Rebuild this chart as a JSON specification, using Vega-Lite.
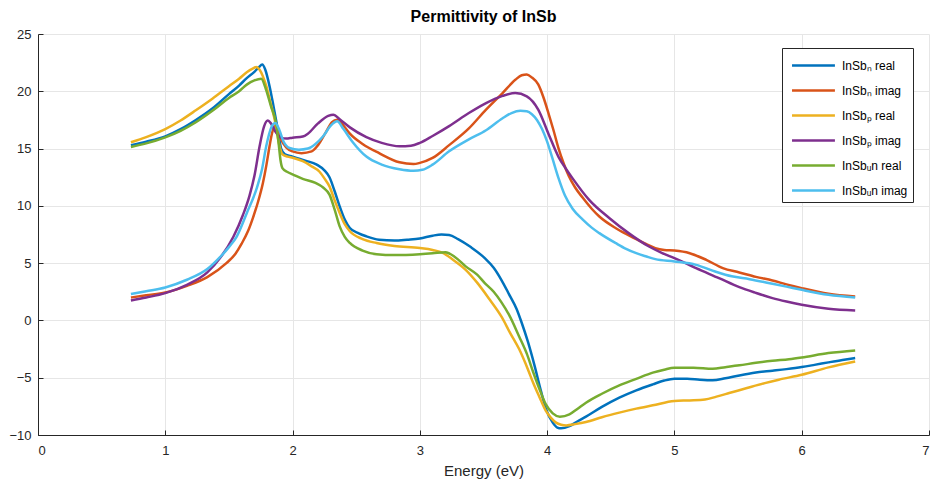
{
  "$schema": "https://vega.github.io/schema/vega-lite/v6.json",
  "width": 891,
  "height": 401,
  "autosize": {"type": "none"},
  "padding": {"left": 38, "top": 34, "right": 6, "bottom": 49},
  "background": "white",
  "title": {"text": "Permittivity of InSb", "fontSize": 16, "fontWeight": "bold", "font": "Liberation Sans", "color": "#000000", "offset": 3, "anchor": "middle"},
  "data": {"values": [
    {"series": "InSbₙ real", "E": 0.73, "eps": 15.3},
    {"series": "InSbₙ real", "E": 0.85, "eps": 15.6},
    {"series": "InSbₙ real", "E": 1.0, "eps": 16.07},
    {"series": "InSbₙ real", "E": 1.12, "eps": 16.7},
    {"series": "InSbₙ real", "E": 1.24, "eps": 17.5},
    {"series": "InSbₙ real", "E": 1.37, "eps": 18.5},
    {"series": "InSbₙ real", "E": 1.5, "eps": 19.75},
    {"series": "InSbₙ real", "E": 1.58, "eps": 20.5},
    {"series": "InSbₙ real", "E": 1.64, "eps": 21.15},
    {"series": "InSbₙ real", "E": 1.7, "eps": 21.7},
    {"series": "InSbₙ real", "E": 1.735, "eps": 22.1},
    {"series": "InSbₙ real", "E": 1.762, "eps": 22.33},
    {"series": "InSbₙ real", "E": 1.785, "eps": 21.9},
    {"series": "InSbₙ real", "E": 1.82, "eps": 20.4},
    {"series": "InSbₙ real", "E": 1.85, "eps": 18.7},
    {"series": "InSbₙ real", "E": 1.885, "eps": 16.6},
    {"series": "InSbₙ real", "E": 1.91, "eps": 15.0},
    {"series": "InSbₙ real", "E": 1.94, "eps": 14.5},
    {"series": "InSbₙ real", "E": 2.0, "eps": 14.3},
    {"series": "InSbₙ real", "E": 2.1, "eps": 13.95},
    {"series": "InSbₙ real", "E": 2.19, "eps": 13.6},
    {"series": "InSbₙ real", "E": 2.25, "eps": 13.1},
    {"series": "InSbₙ real", "E": 2.29, "eps": 12.5},
    {"series": "InSbₙ real", "E": 2.33, "eps": 11.3},
    {"series": "InSbₙ real", "E": 2.37, "eps": 9.96},
    {"series": "InSbₙ real", "E": 2.41, "eps": 8.8},
    {"series": "InSbₙ real", "E": 2.45, "eps": 8.07},
    {"series": "InSbₙ real", "E": 2.52, "eps": 7.6},
    {"series": "InSbₙ real", "E": 2.58, "eps": 7.34},
    {"series": "InSbₙ real", "E": 2.68, "eps": 7.05},
    {"series": "InSbₙ real", "E": 2.8, "eps": 6.98},
    {"series": "InSbₙ real", "E": 2.9, "eps": 7.05},
    {"series": "InSbₙ real", "E": 3.0, "eps": 7.15},
    {"series": "InSbₙ real", "E": 3.1, "eps": 7.4},
    {"series": "InSbₙ real", "E": 3.17, "eps": 7.5},
    {"series": "InSbₙ real", "E": 3.23, "eps": 7.45},
    {"series": "InSbₙ real", "E": 3.3, "eps": 7.1},
    {"series": "InSbₙ real", "E": 3.4, "eps": 6.4},
    {"series": "InSbₙ real", "E": 3.51, "eps": 5.44},
    {"series": "InSbₙ real", "E": 3.58, "eps": 4.6},
    {"series": "InSbₙ real", "E": 3.64, "eps": 3.55},
    {"series": "InSbₙ real", "E": 3.7, "eps": 2.3},
    {"series": "InSbₙ real", "E": 3.76, "eps": 1.0},
    {"series": "InSbₙ real", "E": 3.8, "eps": -0.2},
    {"series": "InSbₙ real", "E": 3.85, "eps": -1.9},
    {"series": "InSbₙ real", "E": 3.9, "eps": -3.9},
    {"series": "InSbₙ real", "E": 3.95, "eps": -6.1},
    {"series": "InSbₙ real", "E": 3.99, "eps": -7.7},
    {"series": "InSbₙ real", "E": 4.044, "eps": -8.92},
    {"series": "InSbₙ real", "E": 4.08, "eps": -9.35},
    {"series": "InSbₙ real", "E": 4.11, "eps": -9.42},
    {"series": "InSbₙ real", "E": 4.175, "eps": -9.22},
    {"series": "InSbₙ real", "E": 4.24, "eps": -8.8},
    {"series": "InSbₙ real", "E": 4.305, "eps": -8.4},
    {"series": "InSbₙ real", "E": 4.43, "eps": -7.55},
    {"series": "InSbₙ real", "E": 4.567, "eps": -6.74},
    {"series": "InSbₙ real", "E": 4.7, "eps": -6.1},
    {"series": "InSbₙ real", "E": 4.83, "eps": -5.58},
    {"series": "InSbₙ real", "E": 4.92, "eps": -5.25},
    {"series": "InSbₙ real", "E": 5.0, "eps": -5.09},
    {"series": "InSbₙ real", "E": 5.1, "eps": -5.08},
    {"series": "InSbₙ real", "E": 5.2, "eps": -5.18},
    {"series": "InSbₙ real", "E": 5.3, "eps": -5.23},
    {"series": "InSbₙ real", "E": 5.4, "eps": -5.05},
    {"series": "InSbₙ real", "E": 5.51, "eps": -4.8},
    {"series": "InSbₙ real", "E": 5.64, "eps": -4.55},
    {"series": "InSbₙ real", "E": 5.77, "eps": -4.39},
    {"series": "InSbₙ real", "E": 5.88, "eps": -4.25},
    {"series": "InSbₙ real", "E": 6.0, "eps": -4.07},
    {"series": "InSbₙ real", "E": 6.1, "eps": -3.88},
    {"series": "InSbₙ real", "E": 6.21, "eps": -3.66},
    {"series": "InSbₙ real", "E": 6.32, "eps": -3.45},
    {"series": "InSbₙ real", "E": 6.42, "eps": -3.28},

    {"series": "InSbₙ imag", "E": 0.73, "eps": 2.0},
    {"series": "InSbₙ imag", "E": 0.85, "eps": 2.2},
    {"series": "InSbₙ imag", "E": 1.0, "eps": 2.44},
    {"series": "InSbₙ imag", "E": 1.17, "eps": 3.02},
    {"series": "InSbₙ imag", "E": 1.33, "eps": 3.78},
    {"series": "InSbₙ imag", "E": 1.48, "eps": 5.0},
    {"series": "InSbₙ imag", "E": 1.55, "eps": 5.8},
    {"series": "InSbₙ imag", "E": 1.6, "eps": 6.7},
    {"series": "InSbₙ imag", "E": 1.65, "eps": 7.8},
    {"series": "InSbₙ imag", "E": 1.69, "eps": 9.0},
    {"series": "InSbₙ imag", "E": 1.73, "eps": 10.4},
    {"series": "InSbₙ imag", "E": 1.767, "eps": 12.0},
    {"series": "InSbₙ imag", "E": 1.795, "eps": 13.6},
    {"series": "InSbₙ imag", "E": 1.819, "eps": 15.2},
    {"series": "InSbₙ imag", "E": 1.84, "eps": 16.4},
    {"series": "InSbₙ imag", "E": 1.864, "eps": 17.0},
    {"series": "InSbₙ imag", "E": 1.885, "eps": 16.6},
    {"series": "InSbₙ imag", "E": 1.91, "eps": 15.8},
    {"series": "InSbₙ imag", "E": 1.95, "eps": 15.1},
    {"series": "InSbₙ imag", "E": 2.0, "eps": 14.75},
    {"series": "InSbₙ imag", "E": 2.07, "eps": 14.6},
    {"series": "InSbₙ imag", "E": 2.15, "eps": 14.75},
    {"series": "InSbₙ imag", "E": 2.2, "eps": 15.3},
    {"series": "InSbₙ imag", "E": 2.26, "eps": 16.4},
    {"series": "InSbₙ imag", "E": 2.31, "eps": 17.3},
    {"series": "InSbₙ imag", "E": 2.35, "eps": 17.52},
    {"series": "InSbₙ imag", "E": 2.4, "eps": 17.0},
    {"series": "InSbₙ imag", "E": 2.45, "eps": 16.3},
    {"series": "InSbₙ imag", "E": 2.55, "eps": 15.4},
    {"series": "InSbₙ imag", "E": 2.68, "eps": 14.6},
    {"series": "InSbₙ imag", "E": 2.84, "eps": 13.8},
    {"series": "InSbₙ imag", "E": 2.95, "eps": 13.65},
    {"series": "InSbₙ imag", "E": 3.0, "eps": 13.75},
    {"series": "InSbₙ imag", "E": 3.1, "eps": 14.18},
    {"series": "InSbₙ imag", "E": 3.23, "eps": 15.3},
    {"series": "InSbₙ imag", "E": 3.385, "eps": 16.76},
    {"series": "InSbₙ imag", "E": 3.52, "eps": 18.4},
    {"series": "InSbₙ imag", "E": 3.65, "eps": 19.85},
    {"series": "InSbₙ imag", "E": 3.75, "eps": 21.0},
    {"series": "InSbₙ imag", "E": 3.8, "eps": 21.4},
    {"series": "InSbₙ imag", "E": 3.84, "eps": 21.47},
    {"series": "InSbₙ imag", "E": 3.88, "eps": 21.2},
    {"series": "InSbₙ imag", "E": 3.93, "eps": 20.6},
    {"series": "InSbₙ imag", "E": 3.97, "eps": 19.5},
    {"series": "InSbₙ imag", "E": 4.01, "eps": 18.1},
    {"series": "InSbₙ imag", "E": 4.05, "eps": 16.6},
    {"series": "InSbₙ imag", "E": 4.09, "eps": 15.0},
    {"series": "InSbₙ imag", "E": 4.13, "eps": 13.7},
    {"series": "InSbₙ imag", "E": 4.17, "eps": 12.6},
    {"series": "InSbₙ imag", "E": 4.22, "eps": 11.6},
    {"series": "InSbₙ imag", "E": 4.28, "eps": 10.7},
    {"series": "InSbₙ imag", "E": 4.35, "eps": 9.75},
    {"series": "InSbₙ imag", "E": 4.41, "eps": 9.07},
    {"series": "InSbₙ imag", "E": 4.54, "eps": 8.05},
    {"series": "InSbₙ imag", "E": 4.62, "eps": 7.55},
    {"series": "InSbₙ imag", "E": 4.7, "eps": 7.09},
    {"series": "InSbₙ imag", "E": 4.78, "eps": 6.65},
    {"series": "InSbₙ imag", "E": 4.85, "eps": 6.31},
    {"series": "InSbₙ imag", "E": 4.92, "eps": 6.15},
    {"series": "InSbₙ imag", "E": 5.0, "eps": 6.1},
    {"series": "InSbₙ imag", "E": 5.12, "eps": 5.87},
    {"series": "InSbₙ imag", "E": 5.25, "eps": 5.29},
    {"series": "InSbₙ imag", "E": 5.38, "eps": 4.56},
    {"series": "InSbₙ imag", "E": 5.51, "eps": 4.19},
    {"series": "InSbₙ imag", "E": 5.64, "eps": 3.8},
    {"series": "InSbₙ imag", "E": 5.77, "eps": 3.49},
    {"series": "InSbₙ imag", "E": 5.88, "eps": 3.15},
    {"series": "InSbₙ imag", "E": 6.0, "eps": 2.82},
    {"series": "InSbₙ imag", "E": 6.21, "eps": 2.33},
    {"series": "InSbₙ imag", "E": 6.42, "eps": 2.09},

    {"series": "InSbₚ real", "E": 0.73, "eps": 15.55},
    {"series": "InSbₚ real", "E": 0.85, "eps": 16.0},
    {"series": "InSbₚ real", "E": 1.0, "eps": 16.7},
    {"series": "InSbₚ real", "E": 1.12, "eps": 17.45},
    {"series": "InSbₚ real", "E": 1.24, "eps": 18.34},
    {"series": "InSbₚ real", "E": 1.37, "eps": 19.35},
    {"series": "InSbₚ real", "E": 1.5, "eps": 20.44},
    {"series": "InSbₚ real", "E": 1.58, "eps": 21.1},
    {"series": "InSbₚ real", "E": 1.64, "eps": 21.66},
    {"series": "InSbₚ real", "E": 1.69, "eps": 22.0},
    {"series": "InSbₚ real", "E": 1.715, "eps": 22.13},
    {"series": "InSbₚ real", "E": 1.74, "eps": 21.9},
    {"series": "InSbₚ real", "E": 1.767, "eps": 21.3},
    {"series": "InSbₚ real", "E": 1.795, "eps": 20.4},
    {"series": "InSbₚ real", "E": 1.82, "eps": 19.3},
    {"series": "InSbₚ real", "E": 1.86, "eps": 17.5},
    {"series": "InSbₚ real", "E": 1.898, "eps": 15.2},
    {"series": "InSbₚ real", "E": 1.92, "eps": 14.5},
    {"series": "InSbₚ real", "E": 1.96, "eps": 14.3},
    {"series": "InSbₚ real", "E": 2.0, "eps": 14.2},
    {"series": "InSbₚ real", "E": 2.08, "eps": 13.9},
    {"series": "InSbₚ real", "E": 2.15, "eps": 13.45},
    {"series": "InSbₚ real", "E": 2.21, "eps": 13.0},
    {"series": "InSbₚ real", "E": 2.25, "eps": 12.4},
    {"series": "InSbₚ real", "E": 2.29, "eps": 11.7},
    {"series": "InSbₚ real", "E": 2.33, "eps": 10.5},
    {"series": "InSbₚ real", "E": 2.37, "eps": 9.38},
    {"series": "InSbₚ real", "E": 2.41, "eps": 8.4},
    {"series": "InSbₚ real", "E": 2.45, "eps": 7.78},
    {"series": "InSbₚ real", "E": 2.55, "eps": 7.1},
    {"series": "InSbₚ real", "E": 2.66, "eps": 6.76},
    {"series": "InSbₚ real", "E": 2.8, "eps": 6.5},
    {"series": "InSbₚ real", "E": 3.0, "eps": 6.32},
    {"series": "InSbₚ real", "E": 3.1, "eps": 6.15},
    {"series": "InSbₚ real", "E": 3.18, "eps": 5.9},
    {"series": "InSbₚ real", "E": 3.26, "eps": 5.3},
    {"series": "InSbₚ real", "E": 3.36, "eps": 4.42},
    {"series": "InSbₚ real", "E": 3.45, "eps": 3.3},
    {"series": "InSbₚ real", "E": 3.55, "eps": 1.8},
    {"series": "InSbₚ real", "E": 3.64, "eps": 0.35},
    {"series": "InSbₚ real", "E": 3.71, "eps": -1.1},
    {"series": "InSbₚ real", "E": 3.78, "eps": -2.5},
    {"series": "InSbₚ real", "E": 3.85, "eps": -4.3},
    {"series": "InSbₚ real", "E": 3.89, "eps": -5.44},
    {"series": "InSbₚ real", "E": 3.94, "eps": -6.7},
    {"series": "InSbₚ real", "E": 3.99, "eps": -7.9},
    {"series": "InSbₚ real", "E": 4.03, "eps": -8.5},
    {"series": "InSbₚ real", "E": 4.07, "eps": -8.92},
    {"series": "InSbₚ real", "E": 4.11, "eps": -9.1},
    {"series": "InSbₚ real", "E": 4.15, "eps": -9.16},
    {"series": "InSbₚ real", "E": 4.22, "eps": -9.05},
    {"series": "InSbₚ real", "E": 4.305, "eps": -8.87},
    {"series": "InSbₚ real", "E": 4.43, "eps": -8.45},
    {"series": "InSbₚ real", "E": 4.567, "eps": -8.05},
    {"series": "InSbₚ real", "E": 4.7, "eps": -7.7},
    {"series": "InSbₚ real", "E": 4.83, "eps": -7.41},
    {"series": "InSbₚ real", "E": 5.0, "eps": -7.03},
    {"series": "InSbₚ real", "E": 5.12, "eps": -6.98},
    {"series": "InSbₚ real", "E": 5.24, "eps": -6.9},
    {"series": "InSbₚ real", "E": 5.33, "eps": -6.65},
    {"series": "InSbₚ real", "E": 5.43, "eps": -6.34},
    {"series": "InSbₚ real", "E": 5.57, "eps": -5.9},
    {"series": "InSbₚ real", "E": 5.71, "eps": -5.47},
    {"series": "InSbₚ real", "E": 5.82, "eps": -5.17},
    {"series": "InSbₚ real", "E": 6.0, "eps": -4.74},
    {"series": "InSbₚ real", "E": 6.21, "eps": -4.1},
    {"series": "InSbₚ real", "E": 6.42, "eps": -3.58},

    {"series": "InSbₚ imag", "E": 0.73, "eps": 1.74},
    {"series": "InSbₚ imag", "E": 0.85, "eps": 2.0},
    {"series": "InSbₚ imag", "E": 1.0, "eps": 2.38},
    {"series": "InSbₚ imag", "E": 1.17, "eps": 3.11},
    {"series": "InSbₚ imag", "E": 1.33, "eps": 4.19},
    {"series": "InSbₚ imag", "E": 1.43, "eps": 5.44},
    {"series": "InSbₚ imag", "E": 1.535, "eps": 7.3},
    {"series": "InSbₚ imag", "E": 1.61, "eps": 9.2},
    {"series": "InSbₚ imag", "E": 1.662, "eps": 10.9},
    {"series": "InSbₚ imag", "E": 1.7, "eps": 12.6},
    {"series": "InSbₚ imag", "E": 1.741, "eps": 15.2},
    {"series": "InSbₚ imag", "E": 1.775, "eps": 16.9},
    {"series": "InSbₚ imag", "E": 1.806, "eps": 17.44},
    {"series": "InSbₚ imag", "E": 1.83, "eps": 17.2},
    {"series": "InSbₚ imag", "E": 1.87, "eps": 16.4},
    {"series": "InSbₚ imag", "E": 1.91, "eps": 15.95},
    {"series": "InSbₚ imag", "E": 1.95, "eps": 15.87},
    {"series": "InSbₚ imag", "E": 2.0, "eps": 15.95},
    {"series": "InSbₚ imag", "E": 2.08, "eps": 16.05},
    {"series": "InSbₚ imag", "E": 2.12, "eps": 16.3},
    {"series": "InSbₚ imag", "E": 2.2, "eps": 17.2},
    {"series": "InSbₚ imag", "E": 2.28, "eps": 17.85},
    {"series": "InSbₚ imag", "E": 2.32, "eps": 17.96},
    {"series": "InSbₚ imag", "E": 2.37, "eps": 17.55},
    {"series": "InSbₚ imag", "E": 2.45, "eps": 16.85},
    {"series": "InSbₚ imag", "E": 2.58, "eps": 16.0},
    {"series": "InSbₚ imag", "E": 2.7, "eps": 15.5},
    {"series": "InSbₚ imag", "E": 2.84, "eps": 15.2},
    {"series": "InSbₚ imag", "E": 2.93, "eps": 15.25},
    {"series": "InSbₚ imag", "E": 3.0, "eps": 15.5},
    {"series": "InSbₚ imag", "E": 3.1, "eps": 16.1},
    {"series": "InSbₚ imag", "E": 3.23, "eps": 16.96},
    {"series": "InSbₚ imag", "E": 3.385, "eps": 18.1},
    {"series": "InSbₚ imag", "E": 3.52, "eps": 18.97},
    {"series": "InSbₚ imag", "E": 3.65, "eps": 19.6},
    {"series": "InSbₚ imag", "E": 3.75, "eps": 19.85},
    {"series": "InSbₚ imag", "E": 3.84, "eps": 19.56},
    {"series": "InSbₚ imag", "E": 3.93, "eps": 18.4},
    {"series": "InSbₚ imag", "E": 4.01, "eps": 16.3},
    {"series": "InSbₚ imag", "E": 4.09, "eps": 14.26},
    {"series": "InSbₚ imag", "E": 4.15, "eps": 13.2},
    {"series": "InSbₚ imag", "E": 4.2, "eps": 12.4},
    {"series": "InSbₚ imag", "E": 4.33, "eps": 10.52},
    {"series": "InSbₚ imag", "E": 4.49, "eps": 8.92},
    {"series": "InSbₚ imag", "E": 4.64, "eps": 7.62},
    {"series": "InSbₚ imag", "E": 4.8, "eps": 6.45},
    {"series": "InSbₚ imag", "E": 4.9, "eps": 5.9},
    {"series": "InSbₚ imag", "E": 5.0, "eps": 5.44},
    {"series": "InSbₚ imag", "E": 5.17, "eps": 4.56},
    {"series": "InSbₚ imag", "E": 5.35, "eps": 3.69},
    {"series": "InSbₚ imag", "E": 5.51, "eps": 2.9},
    {"series": "InSbₚ imag", "E": 5.64, "eps": 2.4},
    {"series": "InSbₚ imag", "E": 5.77, "eps": 1.95},
    {"series": "InSbₚ imag", "E": 5.88, "eps": 1.65},
    {"series": "InSbₚ imag", "E": 6.0, "eps": 1.37},
    {"series": "InSbₚ imag", "E": 6.21, "eps": 1.02},
    {"series": "InSbₚ imag", "E": 6.42, "eps": 0.87},

    {"series": "InSbᵤn real", "E": 0.73, "eps": 15.14},
    {"series": "InSbᵤn real", "E": 0.85, "eps": 15.45},
    {"series": "InSbᵤn real", "E": 1.0, "eps": 15.98},
    {"series": "InSbᵤn real", "E": 1.12, "eps": 16.55},
    {"series": "InSbᵤn real", "E": 1.24, "eps": 17.3},
    {"series": "InSbᵤn real", "E": 1.37, "eps": 18.3},
    {"series": "InSbᵤn real", "E": 1.5, "eps": 19.42},
    {"series": "InSbᵤn real", "E": 1.58, "eps": 20.0},
    {"series": "InSbᵤn real", "E": 1.64, "eps": 20.58},
    {"series": "InSbᵤn real", "E": 1.7, "eps": 20.95},
    {"series": "InSbᵤn real", "E": 1.754, "eps": 21.1},
    {"series": "InSbᵤn real", "E": 1.79, "eps": 20.2},
    {"series": "InSbᵤn real", "E": 1.83, "eps": 18.7},
    {"series": "InSbᵤn real", "E": 1.87, "eps": 17.2},
    {"series": "InSbᵤn real", "E": 1.89, "eps": 15.5},
    {"series": "InSbᵤn real", "E": 1.905, "eps": 14.0},
    {"series": "InSbᵤn real", "E": 1.92, "eps": 13.3},
    {"series": "InSbᵤn real", "E": 1.96, "eps": 12.95},
    {"series": "InSbᵤn real", "E": 2.0, "eps": 12.75},
    {"series": "InSbᵤn real", "E": 2.08, "eps": 12.35},
    {"series": "InSbᵤn real", "E": 2.18, "eps": 12.0},
    {"series": "InSbᵤn real", "E": 2.24, "eps": 11.6},
    {"series": "InSbᵤn real", "E": 2.29, "eps": 10.98},
    {"series": "InSbᵤn real", "E": 2.33, "eps": 9.7},
    {"series": "InSbᵤn real", "E": 2.37, "eps": 8.21},
    {"series": "InSbᵤn real", "E": 2.41, "eps": 7.3},
    {"series": "InSbᵤn real", "E": 2.45, "eps": 6.76},
    {"series": "InSbᵤn real", "E": 2.55, "eps": 6.1},
    {"series": "InSbᵤn real", "E": 2.66, "eps": 5.78},
    {"series": "InSbᵤn real", "E": 2.8, "eps": 5.7},
    {"series": "InSbᵤn real", "E": 3.0, "eps": 5.78},
    {"series": "InSbᵤn real", "E": 3.1, "eps": 5.86},
    {"series": "InSbᵤn real", "E": 3.2, "eps": 5.96},
    {"series": "InSbᵤn real", "E": 3.28, "eps": 5.5},
    {"series": "InSbᵤn real", "E": 3.36, "eps": 4.72},
    {"series": "InSbᵤn real", "E": 3.45, "eps": 4.0},
    {"series": "InSbᵤn real", "E": 3.51, "eps": 3.26},
    {"series": "InSbᵤn real", "E": 3.58, "eps": 2.5},
    {"series": "InSbᵤn real", "E": 3.64, "eps": 1.6},
    {"series": "InSbᵤn real", "E": 3.7, "eps": 0.5},
    {"series": "InSbᵤn real", "E": 3.78, "eps": -1.4},
    {"series": "InSbᵤn real", "E": 3.84, "eps": -2.9},
    {"series": "InSbᵤn real", "E": 3.89, "eps": -4.5},
    {"series": "InSbᵤn real", "E": 3.94, "eps": -6.0},
    {"series": "InSbᵤn real", "E": 3.99, "eps": -7.33},
    {"series": "InSbᵤn real", "E": 4.044, "eps": -8.11},
    {"series": "InSbᵤn real", "E": 4.1, "eps": -8.4},
    {"series": "InSbᵤn real", "E": 4.175, "eps": -8.2},
    {"series": "InSbᵤn real", "E": 4.24, "eps": -7.7},
    {"series": "InSbᵤn real", "E": 4.305, "eps": -7.18},
    {"series": "InSbᵤn real", "E": 4.43, "eps": -6.4},
    {"series": "InSbᵤn real", "E": 4.567, "eps": -5.67},
    {"series": "InSbᵤn real", "E": 4.7, "eps": -5.1},
    {"series": "InSbᵤn real", "E": 4.83, "eps": -4.56},
    {"series": "InSbᵤn real", "E": 4.92, "eps": -4.3},
    {"series": "InSbᵤn real", "E": 5.0, "eps": -4.13},
    {"series": "InSbᵤn real", "E": 5.15, "eps": -4.12},
    {"series": "InSbᵤn real", "E": 5.3, "eps": -4.22},
    {"series": "InSbᵤn real", "E": 5.4, "eps": -4.08},
    {"series": "InSbᵤn real", "E": 5.51, "eps": -3.92},
    {"series": "InSbᵤn real", "E": 5.64, "eps": -3.7},
    {"series": "InSbᵤn real", "E": 5.77, "eps": -3.52},
    {"series": "InSbᵤn real", "E": 5.9, "eps": -3.38},
    {"series": "InSbᵤn real", "E": 6.0, "eps": -3.23},
    {"series": "InSbᵤn real", "E": 6.21, "eps": -2.85},
    {"series": "InSbᵤn real", "E": 6.42, "eps": -2.62},

    {"series": "InSbᵤn imag", "E": 0.73, "eps": 2.3},
    {"series": "InSbᵤn imag", "E": 0.85, "eps": 2.55},
    {"series": "InSbᵤn imag", "E": 1.0, "eps": 2.88},
    {"series": "InSbᵤn imag", "E": 1.17, "eps": 3.55},
    {"series": "InSbᵤn imag", "E": 1.33, "eps": 4.48},
    {"series": "InSbᵤn imag", "E": 1.43, "eps": 5.52},
    {"series": "InSbᵤn imag", "E": 1.5, "eps": 6.4},
    {"series": "InSbᵤn imag", "E": 1.56, "eps": 7.3},
    {"series": "InSbᵤn imag", "E": 1.64, "eps": 9.36},
    {"series": "InSbᵤn imag", "E": 1.72, "eps": 11.6},
    {"series": "InSbᵤn imag", "E": 1.76, "eps": 13.2},
    {"series": "InSbᵤn imag", "E": 1.793, "eps": 15.2},
    {"series": "InSbᵤn imag", "E": 1.835, "eps": 16.9},
    {"series": "InSbᵤn imag", "E": 1.864, "eps": 17.24},
    {"series": "InSbᵤn imag", "E": 1.89, "eps": 16.8},
    {"series": "InSbᵤn imag", "E": 1.93, "eps": 15.6},
    {"series": "InSbᵤn imag", "E": 1.976, "eps": 15.05},
    {"series": "InSbᵤn imag", "E": 2.05, "eps": 14.9},
    {"series": "InSbᵤn imag", "E": 2.12, "eps": 15.0},
    {"series": "InSbᵤn imag", "E": 2.18, "eps": 15.4},
    {"series": "InSbᵤn imag", "E": 2.24, "eps": 16.07},
    {"series": "InSbᵤn imag", "E": 2.3, "eps": 17.0},
    {"series": "InSbᵤn imag", "E": 2.35, "eps": 17.38},
    {"series": "InSbᵤn imag", "E": 2.4, "eps": 16.7},
    {"series": "InSbᵤn imag", "E": 2.47, "eps": 15.6},
    {"series": "InSbᵤn imag", "E": 2.58, "eps": 14.3},
    {"series": "InSbᵤn imag", "E": 2.7, "eps": 13.6},
    {"series": "InSbᵤn imag", "E": 2.84, "eps": 13.2},
    {"series": "InSbᵤn imag", "E": 2.95, "eps": 13.07},
    {"series": "InSbᵤn imag", "E": 3.02, "eps": 13.15},
    {"series": "InSbᵤn imag", "E": 3.1, "eps": 13.6},
    {"series": "InSbᵤn imag", "E": 3.23, "eps": 14.76},
    {"series": "InSbᵤn imag", "E": 3.385, "eps": 15.8},
    {"series": "InSbᵤn imag", "E": 3.52, "eps": 16.6},
    {"series": "InSbᵤn imag", "E": 3.65, "eps": 17.65},
    {"series": "InSbᵤn imag", "E": 3.72, "eps": 18.1},
    {"series": "InSbᵤn imag", "E": 3.79, "eps": 18.3},
    {"series": "InSbᵤn imag", "E": 3.84, "eps": 18.25},
    {"series": "InSbᵤn imag", "E": 3.88, "eps": 18.0},
    {"series": "InSbᵤn imag", "E": 3.92, "eps": 17.5},
    {"series": "InSbᵤn imag", "E": 3.96, "eps": 16.7},
    {"series": "InSbᵤn imag", "E": 4.0, "eps": 15.6},
    {"series": "InSbᵤn imag", "E": 4.04, "eps": 14.2},
    {"series": "InSbᵤn imag", "E": 4.09, "eps": 12.4},
    {"series": "InSbᵤn imag", "E": 4.14, "eps": 10.9},
    {"series": "InSbᵤn imag", "E": 4.2, "eps": 9.75},
    {"series": "InSbᵤn imag", "E": 4.28, "eps": 8.8},
    {"series": "InSbᵤn imag", "E": 4.35, "eps": 8.1},
    {"series": "InSbᵤn imag", "E": 4.41, "eps": 7.62},
    {"series": "InSbᵤn imag", "E": 4.54, "eps": 6.74},
    {"series": "InSbᵤn imag", "E": 4.62, "eps": 6.25},
    {"series": "InSbᵤn imag", "E": 4.7, "eps": 5.87},
    {"series": "InSbᵤn imag", "E": 4.78, "eps": 5.58},
    {"series": "InSbᵤn imag", "E": 4.85, "eps": 5.35},
    {"series": "InSbᵤn imag", "E": 5.0, "eps": 5.15},
    {"series": "InSbᵤn imag", "E": 5.17, "eps": 4.85},
    {"series": "InSbᵤn imag", "E": 5.32, "eps": 4.27},
    {"series": "InSbᵤn imag", "E": 5.45, "eps": 3.85},
    {"series": "InSbᵤn imag", "E": 5.59, "eps": 3.6},
    {"series": "InSbᵤn imag", "E": 5.77, "eps": 3.2},
    {"series": "InSbᵤn imag", "E": 5.88, "eps": 2.95},
    {"series": "InSbᵤn imag", "E": 6.0, "eps": 2.67},
    {"series": "InSbᵤn imag", "E": 6.21, "eps": 2.24},
    {"series": "InSbᵤn imag", "E": 6.42, "eps": 2.0}
  ]},
  "mark": {"type": "line", "interpolate": "monotone", "strokeWidth": 2.5},
  "encoding": {
    "x": {
      "field": "E", "type": "quantitative",
      "scale": {"domain": [0, 7], "nice": false, "zero": false},
      "axis": {"title": "Energy (eV)", "values": [0, 1, 2, 3, 4, 5, 6, 7], "format": "d", "labelPadding": 14, "titlePadding": 6}
    },
    "y": {
      "field": "eps", "type": "quantitative",
      "scale": {"domain": [-10, 25], "nice": false, "zero": false},
      "axis": {"title": null, "values": [-10, -5, 0, 5, 10, 15, 20, 25], "format": "d", "labelPadding": 12}
    },
    "color": {
      "field": "series", "type": "nominal",
      "scale": {
        "domain": ["InSbₙ real", "InSbₙ imag", "InSbₚ real", "InSbₚ imag", "InSbᵤn real", "InSbᵤn imag"],
        "range": ["#0072BD", "#D95319", "#EDB120", "#7E2F8E", "#77AC30", "#4DBEEE"]
      },
      "legend": {
        "title": null, "orient": "none", "legendX": 744, "legendY": 14,
        "symbolType": "M-0.68,0H3.22", "symbolSize": 484, "symbolStrokeWidth": 2.5,
        "labelFont": "Liberation Sans", "labelFontSize": 12, "labelColor": "#000000",
        "padding": 5, "rowPadding": 6, "labelOffset": 30,
        "strokeColor": "#262626", "fillColor": "#ffffff", "cornerRadius": 0
      }
    }
  },
  "config": {
    "view": {"stroke": null},
    "axis": {
      "domainColor": "#262626", "domainWidth": 1,
      "gridColor": "#e6e6e6", "gridWidth": 1,
      "tickColor": "#262626", "tickSize": -5, "tickWidth": 1,
      "labelFont": "Liberation Sans", "labelFontSize": 13, "labelColor": "#262626",
      "titleFont": "Liberation Sans", "titleFontSize": 15, "titleFontWeight": "normal", "titleColor": "#262626"
    }
  }
}
